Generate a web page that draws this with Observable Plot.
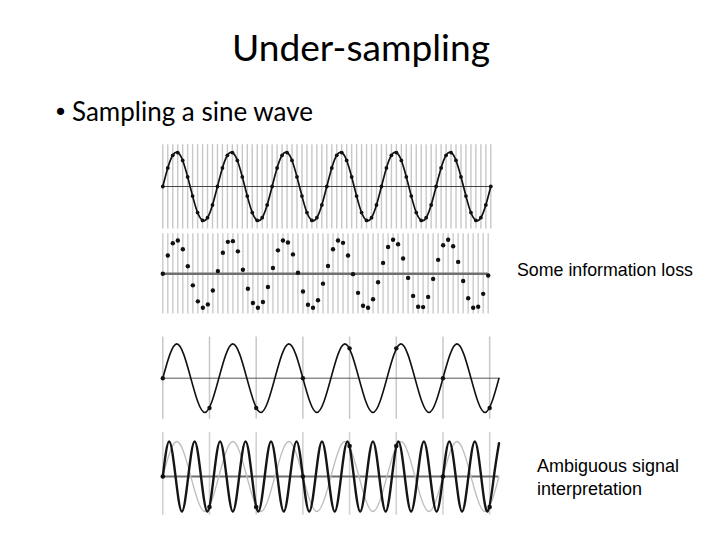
<!DOCTYPE html>
<html><head><meta charset="utf-8">
<script src="https://cdn.jsdelivr.net/npm/d3@7"></script>
<script src="https://cdn.jsdelivr.net/npm/@observablehq/plot@0.6"></script>
<style>
html,body{margin:0;padding:0;background:#fff;}
#page{position:relative;width:720px;height:540px;overflow:hidden;background:#fff;}
#page > svg{position:absolute;}
</style></head><body><div id="page"></div>
<script>
// ---------- data ----------
// Panel 1: densely sampled sine (sample values at each sampling line)
const p1Values = [
  0, 0.54, 0.91, 0.99, 0.76, 0.28, -0.28, -0.76, -0.99, -0.91, -0.54,
  0, 0.54, 0.91, 0.99, 0.76, 0.28, -0.28, -0.76, -0.99, -0.91, -0.54,
  0, 0.54, 0.91, 0.99, 0.76, 0.28, -0.28, -0.76, -0.99, -0.91, -0.54,
  0, 0.54, 0.91, 0.99, 0.76, 0.28, -0.28, -0.76, -0.99, -0.91, -0.54,
  0, 0.54, 0.91, 0.99, 0.76, 0.28, -0.28, -0.76, -0.99, -0.91, -0.54,
  0, 0.54, 0.91, 0.99, 0.76, 0.28, -0.28, -0.76, -0.99, -0.91, -0.54,
  0
];
// Panel 2: sampled points only
const p2Values = [
  0, 0.54, 0.90, 0.98, 0.72, 0.22, -0.34, -0.81, -1.0, -0.90, -0.49,
  0.08, 0.62, 0.94, 0.96, 0.66, 0.12, -0.44, -0.86, -1.0, -0.83, -0.39,
  0.17, 0.69, 0.98, 0.92, 0.57, 0.03, -0.52, -0.91, -1.0, -0.78, -0.29,
  0.23, 0.72, 0.98, 0.91, 0.54, -0.01, -0.56, -0.94, -1.0, -0.75, -0.25,
  0.32, 0.79, 1.0, 0.87, 0.45, -0.12, -0.65, -0.97, -0.98, -0.68, -0.15,
  0.41, 0.84, 1.0, 0.81, 0.35, -0.21, -0.72, -1.0, -0.97, -0.59, -0.05
];
// Panels 3 and 4: sparse sampling instants and the sampled values
const sparseT = [0, 1, 2, 3, 4, 5, 6, 7];
const sparseValues = [0, -0.87, -0.87, 0, 0.87, 0.87, 0, -0.87];
// Panel 3 (and grey curve of panel 4): key points of the sine (zeros and extremes)
const slowKeyT = [0, 0.3, 0.6, 0.9, 1.2, 1.5, 1.8, 2.1, 2.4, 2.7, 3.0, 3.3, 3.6, 3.9,
  4.2, 4.5, 4.8, 5.1, 5.4, 5.7, 6.0, 6.3, 6.6, 6.9, 7.2];
const slowKeyV = [0, 1, 0, -1, 0, 1, 0, -1, 0, 1, 0, -1, 0, 1, 0, -1, 0, 1, 0, -1,
  0, 1, 0, -1, 0];
// Panel 4: faster alias sine through the same samples (key points)
const fastKeyT = [0, 0.136, 0.273, 0.409, 0.545, 0.682, 0.818, 0.955, 1.091, 1.227,
  1.364, 1.5, 1.636, 1.773, 1.909, 2.045, 2.182, 2.318, 2.455, 2.591, 2.727, 2.864,
  3.0, 3.136, 3.273, 3.409, 3.545, 3.682, 3.818, 3.955, 4.091, 4.227, 4.364, 4.5,
  4.636, 4.773, 4.909, 5.045, 5.182, 5.318, 5.455, 5.591, 5.727, 5.864, 6.0, 6.136,
  6.273, 6.409, 6.545, 6.682, 6.818, 6.955, 7.091, 7.2];
const fastKeyV = [0, 1, 0, -1, 0, 1, 0, -1, 0, 1, 0, -1, 0, 1, 0, -1, 0, 1, 0, -1,
  0, 1, 0, -1, 0, 1, 0, -1, 0, 1, 0, -1, 0, 1, 0, -1, 0, 1, 0, -1, 0, 1, 0, -1,
  0, 1, 0, -1, 0, 1, 0, -1, 0, 0.95];

const titleText = "Under-sampling";
const bulletText = "Sampling a sine wave";
const note1 = ["Some information loss"];
const note2 = ["Ambiguous signal", "interpretation"];

// ---------- build ----------
const page = document.getElementById("page");
const p1 = p1Values.map((v, i) => ({x: i, v}));
const p2 = p2Values.map((v, i) => ({x: i, v}));
const sparse = sparseT.map((t, i) => ({x: t, v: sparseValues[i]}));
const slow = slowKeyT.map((t, i) => ({x: t, v: slowKeyV[i]}));
const fast = fastKeyT.map((t, i) => ({x: t, v: fastKeyV[i]}));

function panel({zero, amp, x0, x1, xdom, marks}) {
  const left = 150, width = 370, top = Math.round(zero - 55), height = 110;
  const svg = Plot.plot({
    width, height, margin: 0,
    x: {domain: xdom, range: [x0 - left, x1 - left], axis: null},
    y: {domain: [-1, 1], range: [zero - top + amp, zero - top - amp], axis: null},
    style: {background: "transparent", overflow: "visible"},
    marks
  });
  svg.style.position = "absolute";
  svg.style.left = left + "px";
  svg.style.top = top + "px";
  page.appendChild(svg);
}

// Panel 1
panel({zero: 186, amp: 34.3, x0: 162.3, x1: 490.3, xdom: [0, 66], marks: [
  Plot.ruleX(p1, {x: "x", y1: -1.24, y2: 1.22, stroke: "#c8c8c8", strokeWidth: 1.4}),
  Plot.ruleY([0], {x1: 0, x2: 66, stroke: "#444", strokeWidth: 1}),
  Plot.line(p1, {x: "x", y: "v", curve: "natural", stroke: "#111", strokeWidth: 1.7}),
  Plot.dot(p1, {x: "x", y: "v", r: 1.9, fill: "#111", stroke: "none"})
]});
// Panel 2
panel({zero: 273.3, amp: 34, x0: 162.3, x1: 487.7, xdom: [0, 65], marks: [
  Plot.ruleX(p2, {x: "x", y1: -1.18, y2: 1.18, stroke: "#cbcbcb", strokeWidth: 1.4}),
  Plot.ruleY([0], {x1: 0, x2: 65, stroke: "#707070", strokeWidth: 2.4}),
  Plot.dot(p2, {x: "x", y: "v", r: 2.2, fill: "#111", stroke: "none"})
]});
// Panel 3
panel({zero: 377.7, amp: 34.3, x0: 162.3, x1: 498.5, xdom: [0, 7.2], marks: [
  Plot.ruleX(sparse, {x: "x", y1: -1.2, y2: 1.2, stroke: "#c8c8c8", strokeWidth: 1.5}),
  Plot.ruleY([0], {x1: 0, x2: 7.2, stroke: "#555", strokeWidth: 1}),
  Plot.line(slow, {x: "x", y: "v", curve: "natural", stroke: "#111", strokeWidth: 1.6}),
  Plot.dot(sparse, {x: "x", y: "v", r: 2.2, fill: "#111", stroke: "none"})
]});
// Panel 4
panel({zero: 476, amp: 35, x0: 162.3, x1: 498.5, xdom: [0, 7.2], marks: [
  Plot.ruleX(sparse, {x: "x", y1: -1.11, y2: 1.26, stroke: "#d0d0d0", strokeWidth: 1.5}),
  Plot.ruleY([0], {x1: 0, x2: 7.2, stroke: "#6e6e6e", strokeWidth: 2}),
  Plot.line(slow, {x: "x", y: "v", curve: "natural", stroke: "#bdbdbd", strokeWidth: 1.3}),
  Plot.line(fast, {x: "x", y: "v", curve: "natural", stroke: "#151515", strokeWidth: 2.4}),
  Plot.dot(sparse, {x: "x", y: "v", r: 2.3, fill: "#111", stroke: "none"})
]});

// ---------- text ----------
const NS = "http://www.w3.org/2000/svg";
const tsvg = document.createElementNS(NS, "svg");
tsvg.setAttribute("width", 720); tsvg.setAttribute("height", 540);
tsvg.style.left = "0px"; tsvg.style.top = "0px";
page.appendChild(tsvg);
function addText(str, x, y, family, size, anchor) {
  const t = document.createElementNS(NS, "text");
  t.textContent = str;
  t.setAttribute("x", x); t.setAttribute("y", y);
  t.setAttribute("font-family", family);
  t.setAttribute("font-size", size);
  t.setAttribute("fill", "#000");
  if (anchor) t.setAttribute("text-anchor", anchor);
  tsvg.appendChild(t);
  return t;
}
function fit(t, target) {
  const w = t.getComputedTextLength();
  const s = parseFloat(t.getAttribute("font-size"));
  const ns = s * target / w;
  t.setAttribute("font-size", ns.toFixed(2));
  return ns;
}
const calib = "Lato, 'Open Sans', sans-serif";
const arial = "'Liberation Sans', Arial, sans-serif";
const tt = addText(titleText, 361, 61, calib, 36, "middle");
fit(tt, 258);
const bt = addText(bulletText, 72, 121, calib, 26);
const bs = fit(bt, 241);
addText("•", 60.5, 121, "'DejaVu Sans', sans-serif", bs * 0.95, "middle");
const n1 = addText(note1[0], 517, 276, arial, 16);
fit(n1, 176);
const n2a = addText(note2[0], 537, 472, arial, 16);
const s2 = fit(n2a, 142);
addText(note2[1], 537, 495, arial, s2);
</script></body></html>
